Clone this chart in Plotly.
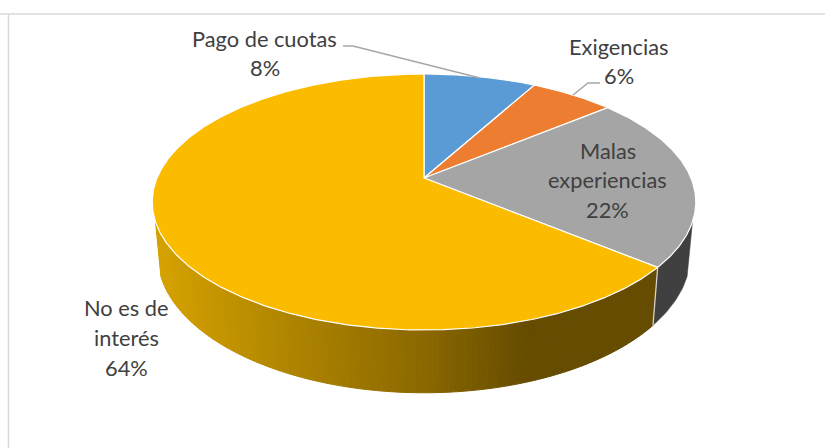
import math
import plotly.graph_objects as go

# ---- data ----
categories = ["Pago de cuotas", "Exigencias", "Malas experiencias", "No es de interés"]
values = [8, 6, 22, 64]
colors = ["#5B9BD5", "#ED7D31", "#A5A5A5", "#FBBC00"]
label_lines = [["Pago de cuotas", "8%"], ["Exigencias", "6%"],
               ["Malas", "experiencias", "22%"], ["No es de", "interés", "64%"]]
label_x = [264.5, 618.5, 607.5, 126]
label_y = [[38, 67], [46, 75], [150, 179, 209], [307, 337, 367]]

# ---- projection of the tilted pie ----
CX, CY = 424, 178
P, A, B = 0.1875, 123.5, 267
DEPTH, XSHRINK = 51, 0.98
TEXT = "#404040"


def top(deg):
    t = math.radians(deg)
    X, Y = math.sin(t), math.cos(t)
    w = 1 + P * Y
    return CX + B * X / w, CY - A * Y / w


def bottom(deg):
    t = math.radians(deg)
    X, Y = math.sin(t), math.cos(t)
    w = 1 + P * Y
    return CX + XSHRINK * B * X / w, CY - A * Y / w + DEPTH / w


def arange(a, b, step=1.0):
    n = max(1, int(round(abs(b - a) / step)))
    return [a + (b - a) * i / n for i in range(n + 1)]


GRAD = [(150, (216, 164, 0)), (300, (172, 130, 0)), (420, (140, 105, 0)),
        (525, (102, 76, 0)), (660, (102, 76, 0))]


def wall_color(x):
    for (x0, c0), (x1, c1) in zip(GRAD, GRAD[1:]):
        if x <= x1:
            f = max(0, (x - x0) / (x1 - x0))
            return "rgb(%d,%d,%d)" % tuple(round(a + (b - a) * f) for a, b in zip(c0, c1))
    return "rgb(102,76,0)"


fig = go.Figure()


def poly(pts, fill, line=None, width=1):
    fig.add_trace(go.Scatter(
        x=[p[0] for p in pts] + [pts[0][0]], y=[p[1] for p in pts] + [pts[0][1]],
        mode="lines", fill="toself", fillcolor=fill,
        line=dict(color=line or fill, width=width), hoverinfo="skip", showlegend=False))


def stroke(pts, color, width):
    fig.add_trace(go.Scatter(
        x=[p[0] for p in pts], y=[p[1] for p in pts], mode="lines",
        line=dict(color=color, width=width), hoverinfo="skip", showlegend=False))


# cumulative slice angles
edges = [0]
for v in values:
    edges.append(edges[-1] + v / sum(values) * 360)

WALL_START, WALL_END = 109.5, 250.5

# dark wall of the grey slice
a0 = WALL_START
a1 = edges[3]
poly([top(a) for a in arange(a0, a1)] + [bottom(a) for a in arange(a1, a0)], "#404040", width=0.5)

# shaded wall of the yellow slice
angs = arange(edges[3], WALL_END, 1.0)
for a, b in zip(angs, angs[1:]):
    q = [top(a), top(b), bottom(b), bottom(a)]
    poly(q, wall_color(sum(p[0] for p in q) / 4))

# seam between the two walls
stroke([top(edges[3]), bottom(edges[3])], "#D8D8D8", 1.2)

# top faces
for i, c in enumerate(colors):
    pts = [(CX, CY)] + [top(a) for a in arange(edges[i], edges[i + 1], 0.5)]
    poly(pts, c, line="#FFFFFF", width=1.2)

# leader lines
stroke([(343, 46), (353, 46), (480, 78)], "#A6A6A6", 1.5)
stroke([(600, 83), (588, 83), (573, 95)], "#A6A6A6", 1.5)

# chart frame (top and left only are visible)
stroke([(0, 14), (825, 14)], "#D9D9D9", 1.5)
stroke([(8.5, 14), (8.5, 448)], "#D9D9D9", 1.5)

# labels, one annotation per line for the wide line spacing
for lines, lx, ly in zip(label_lines, label_x, label_y):
    for txt, y in zip(lines, ly):
        fig.add_annotation(x=lx, y=y, text=txt, showarrow=False, xanchor="center", yanchor="middle",
                           font=dict(family="Lato", size=21.8, color=TEXT))

fig.update_layout(
    width=825, height=448, margin=dict(l=0, r=0, t=0, b=0),
    paper_bgcolor="white", plot_bgcolor="white", showlegend=False,
    xaxis=dict(range=[0, 825], visible=False, fixedrange=True),
    yaxis=dict(range=[448, 0], visible=False, fixedrange=True),
)
fig.write_html("out.html", config={"displayModeBar": False},
               post_script="document.body.style.margin='0';document.body.style.overflow='hidden';")
